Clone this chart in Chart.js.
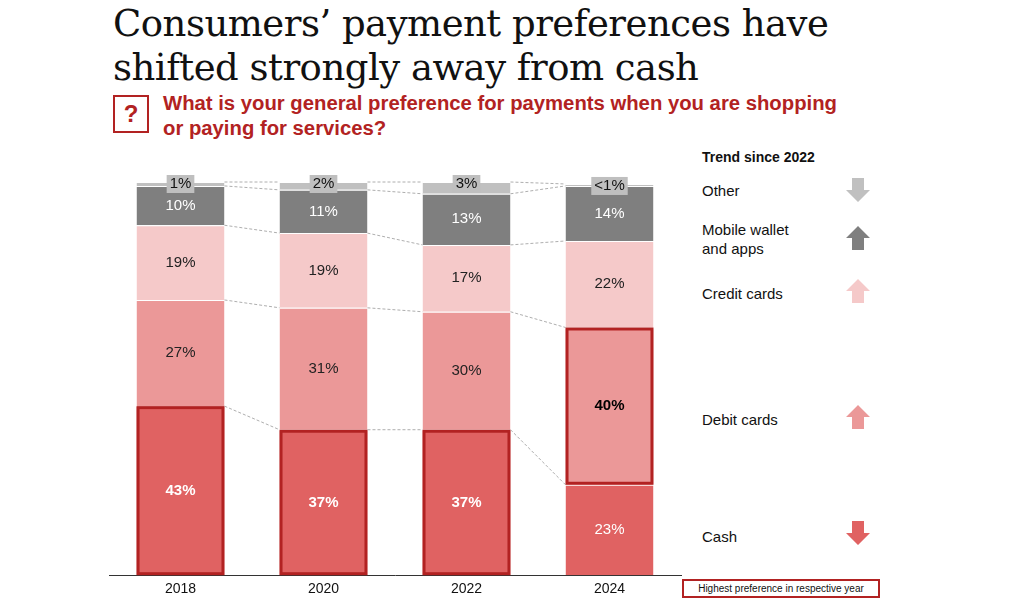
<!DOCTYPE html>
<html><head><meta charset="utf-8">
<script src="https://cdn.jsdelivr.net/npm/chart.js@4/dist/chart.umd.min.js"></script>
<style>
body{margin:0;background:#fff;width:1024px;height:604px;overflow:hidden;position:relative;font-family:"Liberation Sans",Arial,sans-serif}
#c{position:absolute;left:0;top:0}
.t{position:absolute;left:113px;top:2px;font-family:"DejaVu Serif",serif;font-size:37px;line-height:44px;color:#111;letter-spacing:-0.5px}
.q{position:absolute;left:113px;top:95px;width:32px;height:34px;border:2px solid #b22222;color:#b22222;font-size:24px;font-weight:bold;text-align:center;line-height:34px}
.s{position:absolute;left:163px;top:91px;font-size:20.3px;font-weight:bold;color:#b22222;line-height:25px}
.lg{position:absolute;left:702px;font-size:15px;color:#111;line-height:19px}
.hb{position:absolute;left:682px;top:579px;width:194px;height:15px;border:2px solid #b22222;font-size:10px;line-height:15px;text-align:center;color:#111}
</style></head><body>
<div class="t">Consumers’ payment preferences have<br>shifted strongly away from cash</div>
<div class="q">?</div>
<div class="s">What is your general preference for payments when you are shopping<br>or paying for services?</div>
<div class="lg" style="top:148px;font-weight:bold;font-size:14px">Trend since 2022</div>
<div class="lg" style="top:181px">Other</div>
<div class="lg" style="top:220px">Mobile wallet<br>and apps</div>
<div class="lg" style="top:284px">Credit cards</div>
<div class="lg" style="top:410px">Debit cards</div>
<div class="lg" style="top:527px">Cash</div>
<div class="hb">Highest preference in respective year</div>
<canvas id="c" width="1024" height="604"></canvas>
<script>
const years = ["2018","2020","2022","2024"];
const cash = [43,37,37,23];
const debit = [27,31,30,40];
const credit = [19,19,17,22];
const mobile = [10,11,13,14];
const other = [1,2,3,0.5];
const otherLabels = ["1%","2%","3%","<1%"];
const highlight = [[0,0],[1,0],[2,0],[3,1]]; // [year index, dataset index]
const trend = ["down","up","up","up","down"]; // other, mobile, credit, debit, cash

const colors = ["#e06262","#eb9898","#f5c9c9","#7f7f7f","#c0c0c0"];
const names = ["Cash","Debit cards","Credit cards","Mobile wallet and apps","Other"];
const series = [cash,debit,credit,mobile,other];

const overlay = {
  id:"overlay",
  afterDatasetsDraw(chart){
    const ctx = chart.ctx;
    const metas = series.map((_,i)=>chart.getDatasetMeta(i));
    ctx.save();
    ctx.strokeStyle="#999";ctx.lineWidth=0.8;ctx.setLineDash([3,2]);
    for(let d=0;d<series.length;d++){
      for(let i=0;i<years.length-1;i++){
        const a=metas[d].data[i], b=metas[d].data[i+1];
        ctx.beginPath();
        ctx.moveTo(a.x+a.width/2,a.y);ctx.lineTo(b.x-b.width/2,b.y);ctx.stroke();
      }
    }
    ctx.restore();
    ctx.save();ctx.textAlign="center";ctx.textBaseline="middle";
    for(let d=0;d<series.length;d++){
      for(let i=0;i<years.length;i++){
        const el=metas[d].data[i];
        const hl=highlight.some(h=>h[0]===i&&h[1]===d);
        let txt, y=(el.y+el.base)/2;
        if(d===4){
          txt=otherLabels[i];
          ctx.font="15px 'Liberation Sans',Arial";
          const w=ctx.measureText(txt).width+6;
          y=el.y+2;
          ctx.fillStyle="#bfbfbf";ctx.fillRect(el.x-w/2,y-9,w,18);
          ctx.fillStyle="#111";ctx.fillText(txt,el.x,y);
          continue;
        }
        txt=series[d][i]+"%";
        ctx.font=(hl?"bold ":"")+"15px 'Liberation Sans',Arial";
        ctx.fillStyle=(d===0||d===3)?"#fff":(hl?"#000":"#222");
        ctx.fillText(txt,el.x,y);
      }
    }
    ctx.restore();
    ctx.save();ctx.strokeStyle="#b22222";ctx.lineWidth=3;
    highlight.forEach(([i,d])=>{
      const el=metas[d].data[i];
      ctx.strokeRect(el.x-el.width/2+1.5,el.y+1.5,el.width-3,el.base-el.y-3);
    });
    ctx.restore();
    const ay=[190,238,291,417,533];
    const ac=[colors[4],colors[3],colors[2],colors[1],colors[0]];
    ctx.save();
    trend.forEach((t,k)=>{
      const x=858,y=ay[k];ctx.fillStyle=ac[k];ctx.beginPath();
      if(t==="up"){ctx.moveTo(x,y-12);ctx.lineTo(x+12,y);ctx.lineTo(x+6,y);ctx.lineTo(x+6,y+12);ctx.lineTo(x-6,y+12);ctx.lineTo(x-6,y);ctx.lineTo(x-12,y);}
      else{ctx.moveTo(x,y+12);ctx.lineTo(x+12,y);ctx.lineTo(x+6,y);ctx.lineTo(x+6,y-12);ctx.lineTo(x-6,y-12);ctx.lineTo(x-6,y);ctx.lineTo(x-12,y);}
      ctx.closePath();ctx.fill();
    });
    ctx.restore();
  }
};

new Chart(document.getElementById("c"),{
  type:"bar",
  data:{labels:years,datasets:series.map((s,i)=>({label:names[i],data:s,backgroundColor:colors[i],borderColor:"#fff",borderWidth:{top:1},borderSkipped:false,barPercentage:0.615,categoryPercentage:1}))},
  options:{
    responsive:false,animation:false,
    layout:{padding:{left:109,right:343,top:182,bottom:0}},
    plugins:{legend:{display:false},tooltip:{enabled:false}},
    scales:{
      x:{stacked:true,grid:{display:false,drawTicks:false},border:{color:"#333"},ticks:{color:"#111",font:{size:14,family:"'Liberation Sans',Arial"},padding:6}},
      y:{stacked:true,display:false,min:0,max:100}
    }
  },
  plugins:[overlay]
});
</script>
</body></html>
